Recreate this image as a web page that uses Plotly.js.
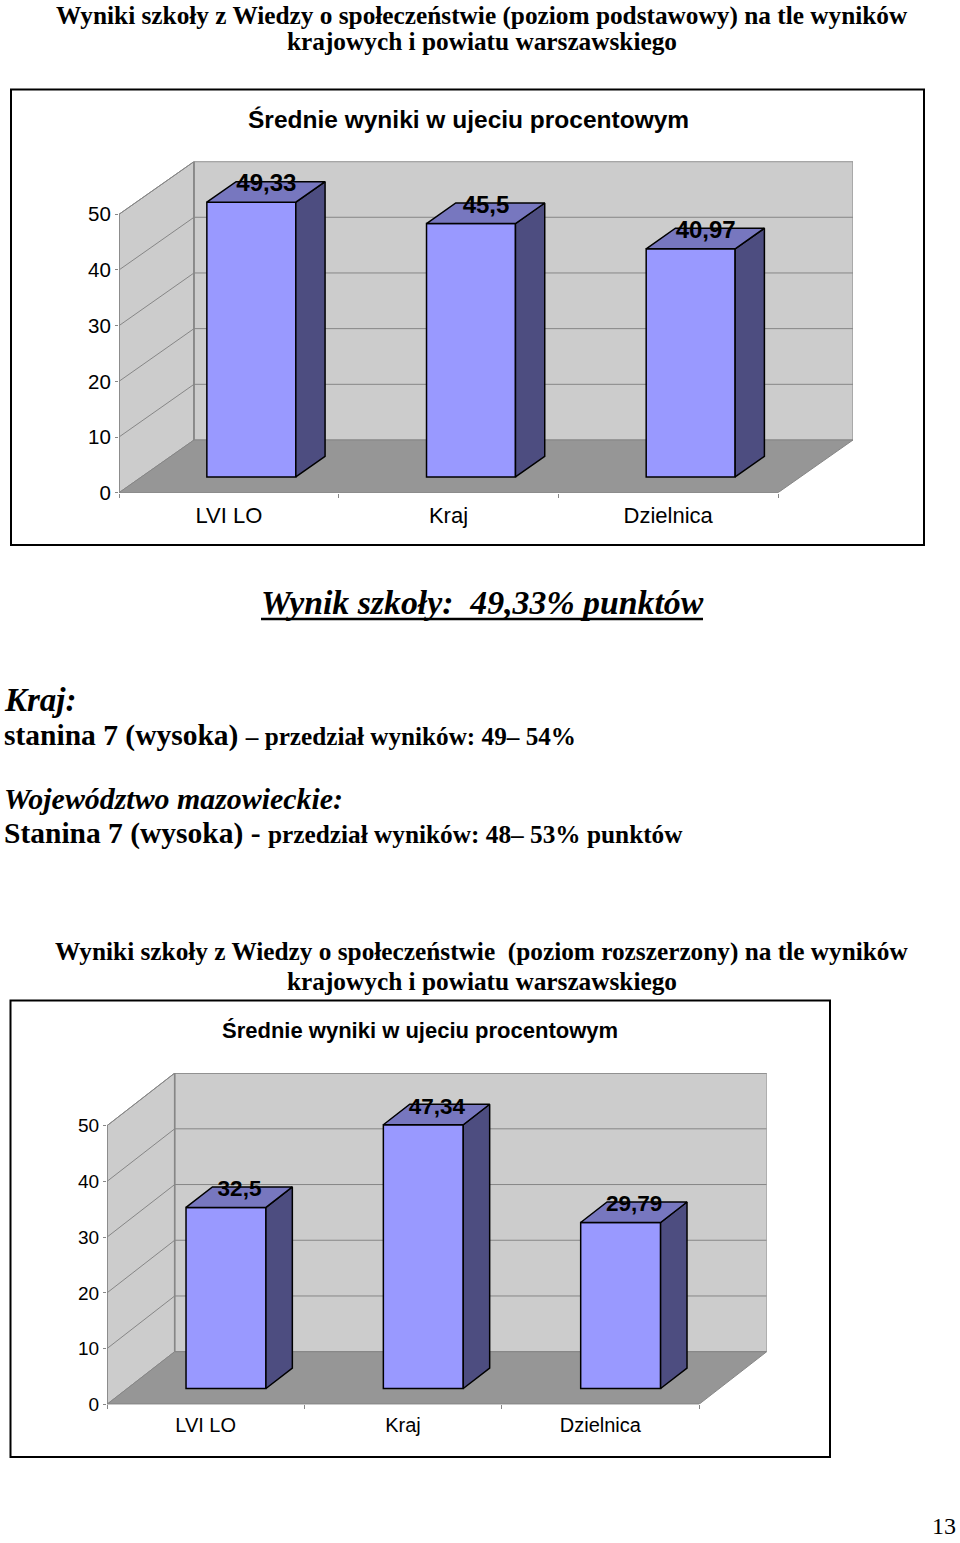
<!DOCTYPE html>
<html>
<head>
<meta charset="utf-8">
<script src="https://cdn.plot.ly/plotly-3.0.1.min.js"></script>
<style>html,body{margin:0;padding:0;background:#fff}</style>
</head>
<body>
<div id="plot" style="width:960px;height:1543px"></div>
<script>
const categories = ['LVI LO', 'Kraj', 'Dzielnica'];
const podstawowy = [49.33, 45.5, 40.97];
const rozszerzony = [32.5, 47.34, 29.79];
const yTicks = [0, 10, 20, 30, 40, 50];

const W = 960, H = 1543;
const SANS = '"Liberation Sans", Arial, sans-serif';
const SERIF = '"Liberation Serif", "Times New Roman", serif';
const WALL = '#CCCCCC', FLOOR = '#969696', EDGE = '#868686';
const FRONT = '#9999FF', TOP = '#7777BF', SIDE = '#4D4D80';

// pixel frame of each 3D looking plot
const frame1 = {id: '', left: 119, right: 778, y0: 492.7, y50: 214.3, dx: 75, dy: 52.7, tick: 20.5, cat: 22, val: 24};
const frame2 = {id: '2', left: 107, right: 699, y0: 1404.3, y50: 1125.7, dx: 67.7, dy: 52.6, tick: 19, cat: 20, val: 22.5};

const traces = [], shapes = [], annotations = [];
const layout = {
  width: W, height: H, margin: {l: 0, r: 0, t: 0, b: 0},
  paper_bgcolor: 'white', plot_bgcolor: 'rgba(0,0,0,0)',
  showlegend: false, bargap: 0, hovermode: false
};

function path(points, xref, yref, fill, width) {
  const d = points.map((p, i) => (i ? 'L' : 'M') + p[0] + ' ' + p[1]).join(' ');
  return {
    type: 'path', layer: 'below', xref: xref, yref: yref,
    path: fill ? d + ' Z' : d,
    fillcolor: fill || 'rgba(0,0,0,0)',
    line: {color: EDGE, width: width || 1}
  };
}

function drawChart(values, f) {
  const catW = (f.right - f.left) / categories.length;
  const unit = (f.y0 - f.y50) / 50;
  const depthX = f.dx / catW, depthY = f.dy / unit;
  const xEnd = categories.length - 0.5;
  const xa = 'x' + f.id, ya = 'y' + f.id;
  const xName = 'xaxis' + f.id, yName = 'yaxis' + f.id;
  // value + depth (0 front, 1 back) -> axis coordinates
  const X = (c, z) => c + z * depthX;
  const Y = (v, z) => v + z * depthY;

  layout[xName] = {
    domain: [f.left / W, (f.right + f.dx) / W], anchor: ya,
    range: [-0.5, xEnd + depthX], showgrid: false, zeroline: false, showline: false,
    tickmode: 'array', tickvals: categories.map((c, i) => i), ticktext: categories,
    ticks: '', tickangle: 0, ticklabelstandoff: 7, tickfont: {family: SANS, size: f.cat, color: '#000'},
    minor: {tickmode: 'array', tickvals: [-0.5, 0.5, 1.5, 2.5], ticks: 'outside', ticklen: 4, tickcolor: EDGE, showgrid: false},
    fixedrange: true
  };
  layout[yName] = {
    domain: [1 - (f.y0) / H, 1 - (f.y50 - f.dy) / H], anchor: xa,
    range: [0, 50 + depthY], showgrid: false, zeroline: false, showline: false,
    tickmode: 'array', tickvals: yTicks, ticks: 'outside', ticklen: 3, tickcolor: EDGE, tickwidth: 1,
    tickfont: {family: SANS, size: f.tick, color: '#000'}, fixedrange: true
  };

  // walls and floor
  shapes.push(path([[-0.5, 0], [X(-0.5, 1), Y(0, 1)], [X(-0.5, 1), Y(50, 1)], [-0.5, 50]], xa, ya, WALL));
  shapes.push(path([[X(-0.5, 1), Y(0, 1)], [X(xEnd, 1), Y(0, 1)], [X(xEnd, 1), Y(50, 1)], [X(-0.5, 1), Y(50, 1)]], xa, ya, WALL));
  shapes.push(path([[-0.5, 0], [xEnd, 0], [X(xEnd, 1), Y(0, 1)], [X(-0.5, 1), Y(0, 1)]], xa, ya, FLOOR));
  // gridlines on both walls
  yTicks.slice(1).forEach(t => {
    shapes.push(path([[-0.5, t], [X(-0.5, 1), Y(t, 1)], [X(xEnd, 1), Y(t, 1)]], xa, ya));
  });
  // heavier axis edges
  shapes.push(path([[-0.5, 50], [-0.5, 0], [xEnd, 0]], xa, ya, null, 1.6));
  shapes.push(path([[X(-0.5, 1), Y(50, 1)], [X(-0.5, 1), Y(0, 1)]], xa, ya, null, 1.6));

  const z0 = 0.30, z1 = 0.69, bw = 0.405;
  const cx = values.map((v, i) => i);

  traces.push({
    type: 'bar', xaxis: xa, yaxis: ya,
    x: cx.map(c => X(c, z0)), y: values, base: values.map(() => Y(0, z0)), width: bw,
    marker: {color: FRONT, line: {color: '#000', width: 1.5}}
  });

  values.forEach((v, i) => {
    const l = i - bw / 2, r = i + bw / 2;
    traces.push({
      type: 'scatter', mode: 'lines', xaxis: xa, yaxis: ya, fill: 'toself', fillcolor: SIDE,
      line: {color: '#000', width: 1.5},
      x: [X(r, z0), X(r, z1), X(r, z1), X(r, z0), X(r, z0)],
      y: [Y(0, z0), Y(0, z1), Y(v, z1), Y(v, z0), Y(0, z0)]
    });
    traces.push({
      type: 'scatter', mode: 'lines', xaxis: xa, yaxis: ya, fill: 'toself', fillcolor: TOP,
      line: {color: '#000', width: 1.5},
      x: [X(l, z0), X(r, z0), X(r, z1), X(l, z1), X(l, z0)],
      y: [Y(v, z0), Y(v, z0), Y(v, z1), Y(v, z1), Y(v, z0)]
    });
  });

  traces.push({
    type: 'scatter', mode: 'text', xaxis: xa, yaxis: ya, cliponaxis: false,
    x: cx.map(c => X(c, 0.5)), y: values.map(v => Y(v, 0.62)),
    text: values.map(v => String(v).replace('.', ',')), textposition: 'middle center',
    textfont: {family: SANS, size: f.val, color: '#000', weight: 'bold'}
  });
}

function note(text, x, y, size, anchor, family) {
  annotations.push({
    text: text, xref: 'paper', yref: 'paper', x: x / W, y: 1 - y / H,
    xanchor: anchor, yanchor: 'middle', showarrow: false, align: 'left',
    font: {family: family || SERIF, size: size, color: '#000'}
  });
}

function box(x0, y0, x1, y1) {
  shapes.push({
    type: 'rect', xref: 'paper', yref: 'paper', layer: 'below',
    x0: x0 / W, x1: x1 / W, y0: 1 - y0 / H, y1: 1 - y1 / H,
    line: {color: '#000', width: 2}, fillcolor: 'white'
  });
}

box(11, 89.5, 924, 545);
box(10.5, 1000.5, 830, 1457);
drawChart(podstawowy, frame1);
drawChart(rozszerzony, frame2);

note('<b>Wyniki szkoły z Wiedzy o społeczeństwie (poziom podstawowy) na tle wyników</b>', 482, 15, 25.3, 'center');
note('<b>krajowych i powiatu warszawskiego</b>', 482, 41, 25.3, 'center');
note('<b>Średnie wyniki w ujeciu procentowym</b>', 468, 119, 24.5, 'center', SANS);
note('<b><i>Wynik szkoły:  49,33% punktów</i></b>', 482, 602, 33.8, 'center');
note('<b><i>Kraj:</i></b>', 2, 700, 33, 'left');
note('<b>stanina 7 (wysoka) <span style="font-size:25.2px">– przedział wyników: 49– 54%</span></b>', 2, 736, 29.5, 'left');
note('<b><i>Województwo mazowieckie:</i></b>', 2, 799, 29.9, 'left');
note('<b>Stanina 7 (wysoka) - <span style="font-size:25.3px">przedział wyników: 48– 53% punktów</span></b>', 2, 833, 29.5, 'left');
note('<b>Wyniki szkoły z Wiedzy o społeczeństwie  (poziom rozszerzony) na tle wyników</b>', 482, 951, 25.3, 'center');
note('<b>krajowych i powiatu warszawskiego</b>', 482, 981, 25.3, 'center');
note('<b>Średnie wyniki w ujeciu procentowym</b>', 420, 1030, 22, 'center', SANS);
note('13', 958, 1526, 24, 'right');

// underline under the school score
shapes.push({
  type: 'line', xref: 'paper', yref: 'paper',
  x0: 261 / W, x1: 703 / W, y0: 1 - 619 / H, y1: 1 - 619 / H,
  line: {color: '#000', width: 2.5}
});

layout.shapes = shapes;
layout.annotations = annotations;
Plotly.newPlot('plot', traces, layout, {displayModeBar: false, staticPlot: true});
</script>
</body>
</html>
